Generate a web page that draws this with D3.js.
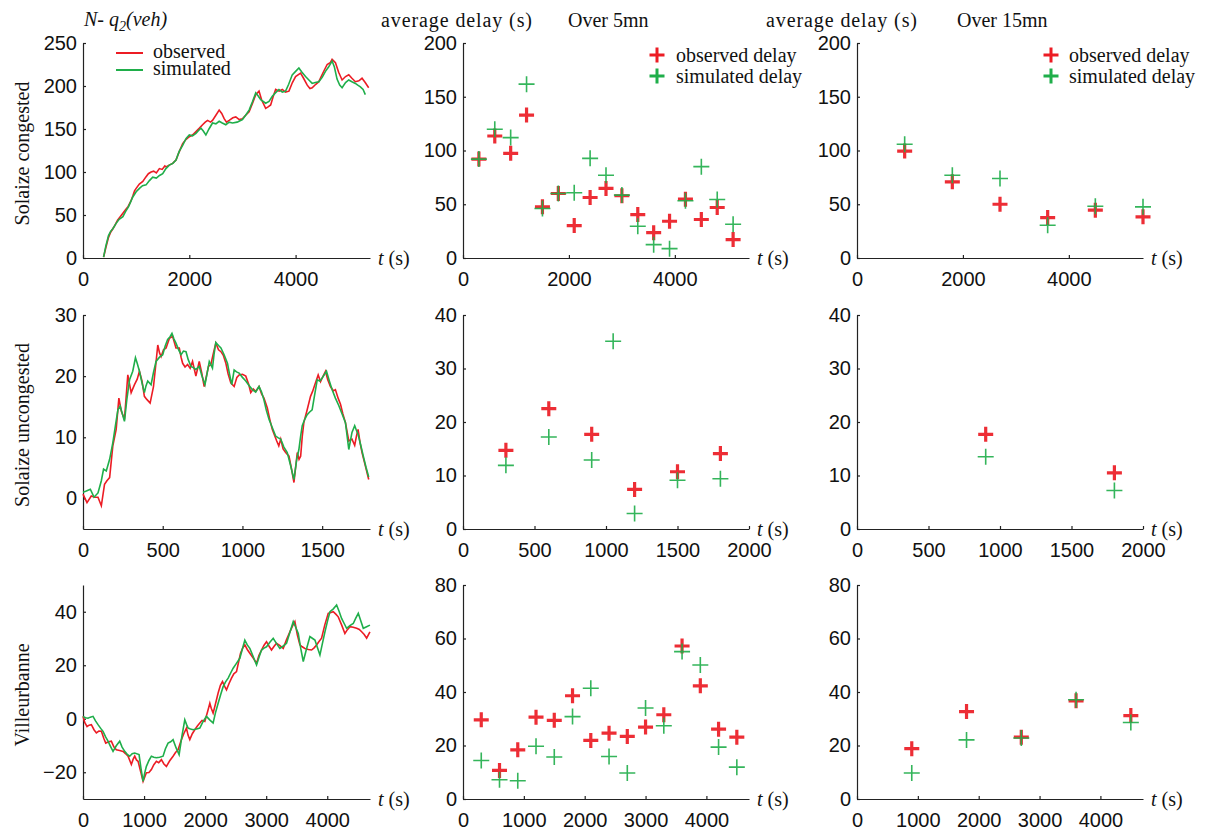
<!DOCTYPE html>
<html lang="en">
<head>
<meta charset="UTF-8">
<title>Observed vs simulated queue and delay</title>
<script src="https://cdnjs.cloudflare.com/ajax/libs/d3/7.8.5/d3.min.js"></script>
<style>
  body { margin: 0; background: #fff; }
  .tick text { font-family: "Liberation Sans", Arial, sans-serif; font-size: 20px; fill: #111; }
  .serif { font-family: "Liberation Serif", "Times New Roman", serif; font-size: 20px; fill: #111; }
</style>
</head>
<body>
<svg id="chart" width="1205" height="832"></svg>
<script>
// ---- data: queue length N - q2 (veh), [t (s), value]
const congObserved = [[387,1],[430,12],[480,24],[520,30],[562,34],[600,38],[650,44],[700,48],[750,52],[800,56],[850,60],[900,66],[937,72],[970,78],[1000,81],[1060,86],[1125,89],[1180,94],[1230,98],[1281,100],[1330,101],[1380,99],[1437,104],[1490,103],[1540,107],[1562,106],[1620,108],[1687,110],[1750,114],[1800,122],[1875,133],[1940,138],[2000,141],[2060,143],[2125,147],[2190,151],[2250,155],[2300,158],[2344,160],[2400,158],[2437,160],[2500,166],[2562,172],[2610,168],[2656,162],[2700,158],[2750,160],[2820,163],[2875,164],[2940,161],[3000,162],[3060,166],[3125,170],[3190,180],[3250,190],[3312,194],[3360,184],[3437,174],[3490,176],[3531,178],[3580,188],[3625,196],[3690,194],[3750,196],[3810,193],[3875,194],[3940,204],[4000,211],[4094,215],[4150,209],[4219,201],[4270,197],[4312,198],[4380,202],[4437,205],[4520,216],[4594,225],[4650,227],[4687,231],[4750,227],[4810,216],[4875,207],[4940,211],[5000,213],[5060,209],[5125,205],[5190,206],[5250,209],[5310,204],[5375,198]];
const congSimulated = [[387,1],[430,14],[480,26],[520,31],[562,34],[620,40],[680,45],[750,48],[800,54],[860,60],[937,71],[1000,77],[1062,81],[1120,84],[1187,85],[1250,90],[1312,94],[1380,93],[1440,96],[1500,98],[1560,104],[1625,108],[1690,110],[1750,114],[1810,124],[1875,131],[1940,139],[2000,143],[2060,142],[2125,145],[2170,148],[2219,151],[2260,148],[2312,143],[2370,150],[2437,157],[2500,156],[2562,159],[2620,157],[2687,155],[2750,158],[2812,157],[2900,158],[3000,161],[3060,166],[3125,172],[3190,182],[3250,192],[3300,188],[3344,184],[3437,180],[3500,182],[3562,188],[3620,192],[3687,196],[3750,193],[3812,194],[3870,202],[3937,213],[4000,217],[4062,221],[4120,216],[4187,211],[4250,207],[4312,203],[4370,204],[4437,205],[4500,210],[4562,217],[4620,222],[4687,229],[4730,222],[4780,208],[4830,201],[4875,198],[4940,204],[5000,207],[5060,205],[5125,203],[5170,201],[5219,199],[5270,196],[5312,190]];

const unconObserved = [[0,0.7],[25,-0.7],[52,0.4],[73,0.2],[94,0.2],[115,-1.2],[135,2.3],[150,2.9],[167,3.4],[187,8.6],[208,11.3],[225,16.4],[240,14.3],[260,12.9],[281,20.2],[302,17.3],[323,18.6],[340,19.5],[354,20.8],[370,19.2],[385,16.7],[400,16.2],[421,15.6],[442,18.3],[455,21.5],[469,25.1],[480,23.8],[490,23.2],[505,24.3],[521,24.6],[542,26.2],[562,26.5],[583,24.6],[604,24.6],[615,23.1],[625,22.1],[640,21.5],[656,21.9],[672,21.3],[687,22.4],[708,20],[729,22.4],[745,20.5],[760,18.3],[775,20.1],[787,21.6],[802,21.9],[820,24],[833,25.4],[850,24.3],[865,24],[880,23.4],[896,22.1],[910,20.4],[927,18.9],[948,18.3],[965,19.8],[979,20.2],[1000,20.3],[1021,20],[1040,18.6],[1052,17.3],[1068,17.9],[1083,17.5],[1104,18.3],[1120,17.1],[1135,16.4],[1156,14.8],[1170,13.1],[1187,11.3],[1200,10.4],[1215,9.4],[1228,8.6],[1240,9.7],[1255,8.1],[1271,7.5],[1292,6.9],[1308,4.8],[1323,2.6],[1344,7.5],[1355,6.4],[1365,6.9],[1375,10.1],[1385,12.4],[1406,14.5],[1427,16.7],[1440,17.5],[1454,18.6],[1475,20.2],[1490,19.1],[1500,19.7],[1521,20.8],[1535,19.4],[1552,18.3],[1570,17.6],[1583,17.8],[1600,16.4],[1615,15.4],[1630,13.8],[1646,12.4],[1667,9.4],[1687,9.7],[1704,8.7],[1715,10.2],[1725,11.3],[1738,9.1],[1750,7.5],[1770,5.4],[1792,3.1]];
const unconSimulated = [[0,1],[21,1.2],[46,1.5],[69,0.2],[94,0.9],[115,2.9],[129,4.8],[146,4.5],[167,6.4],[187,9.1],[205,12.2],[219,14.5],[233,15.1],[245,14],[260,12.6],[275,16.2],[292,19.4],[312,20.8],[329,23],[340,22.1],[354,20.8],[370,18.9],[385,17.3],[395,18.4],[406,19.2],[427,18.6],[442,20.6],[458,22.4],[480,23.1],[500,23.5],[515,24.9],[531,26],[545,26.4],[558,27],[570,26.1],[583,25.4],[600,24.3],[615,23.5],[630,24.1],[646,24],[660,22.7],[677,21.6],[692,21.4],[708,21.1],[729,21.6],[745,20.1],[765,18.6],[780,20.7],[792,22.4],[812,21.3],[822,23.6],[833,25.5],[850,25],[865,24.6],[885,23.5],[906,22.1],[920,20.2],[933,18.6],[948,21],[963,20.7],[979,20.5],[1000,19.8],[1021,19.2],[1040,18.5],[1062,17.8],[1083,17.4],[1104,18.3],[1120,17.4],[1135,16.1],[1150,14.4],[1167,12.9],[1187,11.6],[1208,10.2],[1225,9.9],[1240,9.7],[1260,8.4],[1281,7.5],[1300,5.6],[1323,3.1],[1340,6.3],[1354,8],[1365,10.2],[1375,11.9],[1390,12.9],[1406,13.7],[1420,14.1],[1437,14.5],[1452,16.8],[1469,19.4],[1485,19.2],[1500,19.7],[1527,20.8],[1545,19.2],[1562,17.8],[1583,16.4],[1604,15.2],[1625,13.8],[1646,12.4],[1667,8],[1687,10.8],[1704,11.9],[1714,11.2],[1725,10.5],[1742,8.7],[1760,6.7],[1775,5.1],[1792,3.5]];

const villObserved = [[0,0.9],[30,-1.5],[66,-2.9],[100,-2.4],[137,-2.2],[180,-4.1],[219,-5.3],[260,-4.6],[301,-4.7],[340,-7.3],[372,-9.1],[420,-8.6],[464,-8.4],[505,-10.5],[546,-11.6],[600,-11.9],[656,-12.2],[700,-13.1],[738,-14],[792,-17.1],[820,-15.2],[847,-14],[875,-15.4],[902,-15.9],[945,-19.8],[984,-23.4],[1038,-20.2],[1080,-20.1],[1120,-19],[1160,-17.2],[1202,-15.9],[1240,-16.4],[1284,-15.3],[1325,-16.9],[1366,-17.8],[1420,-15.7],[1475,-14],[1515,-12.6],[1557,-11.6],[1612,-7.8],[1650,-5.6],[1694,-3.5],[1720,-6.1],[1749,-7.8],[1790,-5.6],[1831,-4.1],[1870,-2.8],[1913,-1.6],[1950,-0.6],[1995,-1],[2040,2.6],[2077,5.8],[2100,3.9],[2131,2.1],[2170,5.6],[2213,9.6],[2250,12.5],[2284,13.9],[2320,12.1],[2350,10.8],[2390,13.1],[2432,15.2],[2470,16.8],[2514,17.6],[2550,21.4],[2580,24.5],[2615,26.4],[2650,27.6],[2690,25.9],[2732,24.5],[2790,22.6],[2842,20.7],[2880,23.6],[2924,25.7],[2965,27.5],[3005,28.8],[3045,27.2],[3087,25.7],[3130,27.1],[3169,28.2],[3220,27.4],[3279,26.3],[3330,29.4],[3388,32.5],[3430,34.6],[3470,36.3],[3510,31.4],[3552,27.6],[3590,26.9],[3634,26.3],[3690,25.9],[3743,25.7],[3785,26.5],[3825,27.6],[3865,28.9],[3907,30.1],[3960,35.1],[4016,39.4],[4060,39.7],[4098,40],[4140,39.1],[4180,38.1],[4235,35.1],[4289,31.9],[4330,33.3],[4371,34.4],[4425,34.2],[4481,33.8],[4525,33.4],[4563,32.5],[4605,31.5],[4645,30.1],[4699,32.5]];
const villSimulated = [[0,0.9],[40,0.4],[82,0.2],[120,0.6],[164,0.9],[205,-0.8],[246,-2.2],[290,-3.6],[328,-4.7],[370,-6.8],[410,-8.4],[450,-10.3],[492,-12.2],[545,-10.1],[601,-8.4],[640,-10.6],[683,-12.2],[725,-13.3],[765,-14],[805,-13.1],[847,-12.8],[918,-13.4],[950,-18.6],[984,-23.4],[1010,-20.3],[1038,-17.8],[1080,-15.6],[1120,-14],[1160,-14.4],[1202,-14.6],[1255,-14.4],[1311,-14],[1350,-11.2],[1393,-9.1],[1435,-8.6],[1475,-7.8],[1525,-10.9],[1574,-13.4],[1620,-6.5],[1667,-0.4],[1695,-2.1],[1721,-3.5],[1760,-3.8],[1803,-4.1],[1860,-3.8],[1913,-3.5],[1965,-1.1],[2022,0.9],[2075,-0.4],[2131,-1.6],[2170,2.3],[2213,5.8],[2255,9.1],[2295,12],[2335,13.8],[2377,15.2],[2420,17.2],[2459,18.9],[2510,20.6],[2568,22.6],[2610,26.1],[2650,29.4],[2690,27.6],[2732,26.3],[2790,23.1],[2842,20.1],[2885,23.2],[2924,25.7],[2965,26.4],[3005,26.9],[3060,28.6],[3115,30.1],[3170,28.1],[3224,26.3],[3280,27.2],[3333,28.2],[3390,32.4],[3443,36.3],[3485,34.1],[3525,31.9],[3565,26.4],[3607,21.4],[3660,26.1],[3716,30.7],[3755,30.1],[3798,29.4],[3840,26.5],[3880,23.8],[3920,28.1],[3962,32.5],[4005,36.6],[4044,40],[4100,41.1],[4153,42.5],[4195,40.1],[4235,37.5],[4275,35.7],[4317,33.8],[4370,34.8],[4426,35.6],[4465,37.5],[4508,39.4],[4550,36.5],[4590,33.8],[4645,34.4],[4699,35]];

// ---- data: average delay (s), [t (s), delay]
const cong5Observed = [[300,92],[600,113.5],[900,97.4],[1200,133],[1500,47.6],[1800,60],[2100,30.2],[2400,56.3],[2700,64.7],[3000,57.9],[3300,40.4],[3600,23.6],[3900,34.2],[4200,54.7],[4500,35.8],[4800,47],[5100,17.1]];
const cong5Simulated = [[300,92],[600,119.7],[900,112],[1200,161.7],[1500,46],[1800,60],[2100,60.7],[2400,92.7],[2700,77],[3000,58.5],[3300,29.5],[3600,12.4],[3900,8.7],[4200,53.2],[4500,85],[4800,54.4],[5100,31.4]];
const cong15Observed = [[900,99.5],[1800,70.9],[2700,50],[3600,37.6],[4500,44.5],[5400,38.3]];
const cong15Simulated = [[900,105.8],[1800,77],[2700,74],[3600,30.5],[4500,48.2],[5400,47.6]];

const uncon5Observed = [[300,14.7],[600,22.5],[900,17.7],[1200,7.4],[1500,10.7],[1800,14.1]];
const uncon5Simulated = [[300,11.9],[600,17.2],[900,12.9],[1050,35.1],[1200,2.9],[1500,9.1],[1800,9.4]];
const uncon15Observed = [[900,17.7],[1800,10.5]];
const uncon15Simulated = [[900,13.5],[1800,7.2]];

const vill5Observed = [[300,29.6],[600,10.7],[900,18.4],[1200,30.6],[1500,29.4],[1800,38.6],[2100,21.9],[2400,24.6],[2700,23.4],[3000,26.9],[3300,31.5],[3600,57.2],[3900,42.3],[4200,26.1],[4500,23.1]];
const vill5Simulated = [[300,14.4],[600,7.2],[900,6.8],[1200,19.7],[1500,15.7],[1800,30.8],[2100,41.4],[2400,15.9],[2700,9.7],[3000,34],[3300,27.4],[3600,55.1],[3900,50.1],[4200,19.4],[4500,11.9]];
const vill15Observed = [[900,18.8],[1800,32.7],[2700,23.1],[3600,36.7],[4500,31.2]];
const vill15Simulated = [[900,9.7],[1800,22.1],[2700,22.8],[3600,37.1],[4500,28.6]];

// ---- axes ranges / ticks
const rowNames = ["Solaize congested", "Solaize uncongested", "Villeurbanne"];
const xDomains = [[0, 5400], [0, 1800], [0, 4700]];
const xDomainsDelay = [[0, 5400], [0, 2000], [0, 4700]];
const xTicks = [[0, 2000, 4000], [0, 500, 1000, 1500], [0, 1000, 2000, 3000, 4000]];
const xTicksDelay = [[0, 2000, 4000], [0, 500, 1000, 1500, 2000], [0, 1000, 2000, 3000, 4000]];
const yDomainsQueue = [[0, 250], [-5, 30], [-30, 50]];
const yTicksQueue = [[0, 50, 100, 150, 200, 250], [0, 10, 20, 30], [-20, 0, 20, 40]];
const yDomainsDelay = [[0, 200], [0, 40], [0, 80]];
const yTicksDelay = [[0, 50, 100, 150, 200], [0, 10, 20, 30, 40], [0, 20, 40, 60, 80]];

const queueSeries = [[congObserved, congSimulated], [unconObserved, unconSimulated], [villObserved, villSimulated]];
const delay5Series = [[cong5Observed, cong5Simulated], [uncon5Observed, uncon5Simulated], [vill5Observed, vill5Simulated]];
const delay15Series = [[cong15Observed, cong15Simulated], [uncon15Observed, uncon15Simulated], [vill15Observed, vill15Simulated]];

// ---- layout
const RED = "#ec1c24", GREEN = "#1fae4a";
const colLeft = [83, 463, 857];
const panelW = 287;
const rowTop = [43, 315, 585];
const rowBottom = [258, 529, 799];

const svg = d3.select("#chart");

function drawAxes(g, x, y, xt, yt, w, h) {
  g.append("g")
    .attr("transform", `translate(0,${h})`)
    .call(d3.axisBottom(x).tickValues(xt).tickSizeInner(-3).tickSizeOuter(0).tickPadding(14).tickFormat(d3.format("d")));
  g.append("g")
    .call(d3.axisLeft(y).tickValues(yt).tickSizeInner(-3).tickSizeOuter(0).tickPadding(6).tickFormat(d3.format("d")));
  g.selectAll(".domain, .tick line").attr("stroke", "#222").attr("stroke-width", 1.2);
  const tl = g.append("text").attr("class", "serif")
    .attr("x", w + 8).attr("y", h + 7);
  tl.append("tspan").attr("font-style", "italic").text("t");
  tl.append("tspan").text(" (s)");
}

function plus(sel, size) {
  return sel.append("path").attr("d", `M${-size},0H${size}M0,${-size}V${size}`);
}

for (let r = 0; r < 3; r++) {
  const h = rowBottom[r] - rowTop[r];

  // queue curves
  {
    const g = svg.append("g").attr("transform", `translate(${colLeft[0]},${rowTop[r]})`);
    const x = d3.scaleLinear().domain(xDomains[r]).range([0, panelW]);
    const y = d3.scaleLinear().domain(yDomainsQueue[r]).range([h, 0]);
    drawAxes(g, x, y, xTicks[r], yTicksQueue[r], panelW, h);
    const line = d3.line().x(d => x(d[0])).y(d => y(d[1]));
    const [obs, sim] = queueSeries[r];
    g.append("path").datum(obs).attr("d", line).attr("fill", "none").attr("stroke", RED).attr("stroke-width", 1.6);
    g.append("path").datum(sim).attr("d", line).attr("fill", "none").attr("stroke", GREEN).attr("stroke-width", 1.6);

    svg.append("text").attr("class", "serif").attr("fill", "#333")
      .attr("transform", `translate(29,${(rowTop[r] + rowBottom[r]) / 2 + 3}) rotate(-90)`)
      .attr("text-anchor", "middle").text(rowNames[r]);
  }

  // delay panels
  [delay5Series, delay15Series].forEach((series, c) => {
    const g = svg.append("g").attr("transform", `translate(${colLeft[c + 1]},${rowTop[r]})`);
    const x = d3.scaleLinear().domain(xDomainsDelay[r]).range([0, panelW - 1]);
    const y = d3.scaleLinear().domain(yDomainsDelay[r]).range([h, 0]);
    drawAxes(g, x, y, xTicksDelay[r], yTicksDelay[r], panelW - 1, h);
    const [obs, sim] = series[r];
    g.append("g").selectAll("g").data(obs).join("g")
      .attr("transform", d => `translate(${x(d[0])},${y(d[1])})`)
      .each(function () { plus(d3.select(this), 7.5).attr("stroke", RED).attr("stroke-width", 3.2).attr("opacity", 0.92); });
    g.append("g").selectAll("g").data(sim).join("g")
      .attr("transform", d => `translate(${x(d[0])},${y(d[1])})`)
      .each(function () { plus(d3.select(this), 8).attr("stroke", GREEN).attr("stroke-width", 1.6).attr("opacity", 0.9); });
  });
}

// ---- headers
const hdr = svg.append("text").attr("class", "serif").attr("x", 84).attr("y", 26).attr("font-style", "italic");
hdr.append("tspan").text("N- q");
hdr.append("tspan").attr("dy", 5).attr("font-size", 14).text("2");
hdr.append("tspan").attr("dy", -5).text("(veh)");

[[381, 568, "Over 5mn"], [766, 957, "Over 15mn"]].forEach(([startX, ovX, lab]) => {
  svg.append("text").attr("class", "serif").attr("x", startX).attr("y", 27)
    .attr("textLength", 151).attr("lengthAdjust", "spacing").text("average delay (s)");
  svg.append("text").attr("class", "serif").attr("x", ovX).attr("y", 27).text(lab);
});

// ---- legends
const legQ = svg.append("g");
[["observed", RED, 53], ["simulated", GREEN, 70]].forEach(([lab, col, yy]) => {
  legQ.append("line").attr("x1", 116).attr("x2", 143).attr("y1", yy).attr("y2", yy).attr("stroke", col).attr("stroke-width", 2);
  legQ.append("text").attr("class", "serif").attr("font-size", 19).attr("x", 153).attr("y", yy + 5).text(lab);
});

[[657, 676], [1051, 1069]].forEach(([px, tx]) => {
  [["observed delay", RED, 55], ["simulated delay", GREEN, 76]].forEach(([lab, col, yy]) => {
    plus(svg.append("g").attr("transform", `translate(${px},${yy})`), 7.5).attr("stroke", col).attr("stroke-width", 3);
    svg.append("text").attr("class", "serif").attr("x", tx).attr("y", yy + 7).text(lab);
  });
});
</script>
</body>
</html>
